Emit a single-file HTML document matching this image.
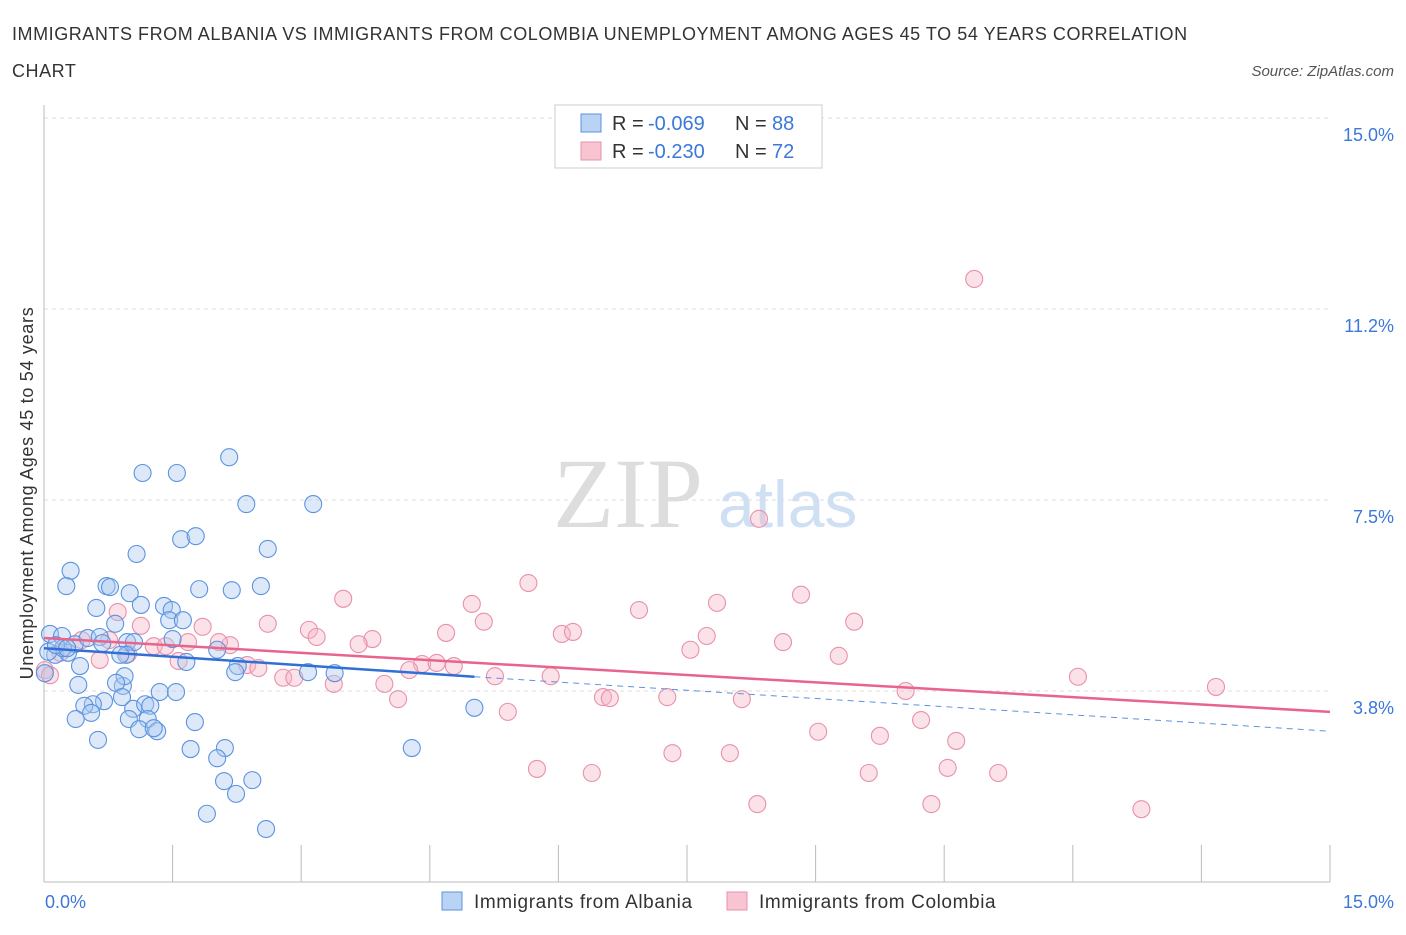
<!DOCTYPE html>
<html><head><meta charset="utf-8"><style>
body{margin:0;background:#fff;font-family:"Liberation Sans",sans-serif;}
svg text{font-family:"Liberation Sans",sans-serif;}
</style></head><body>
<svg id="chart" width="1406" height="930">
<text x="12" y="40" font-size="18" fill="#333" letter-spacing="0.55">IMMIGRANTS FROM ALBANIA VS IMMIGRANTS FROM COLOMBIA UNEMPLOYMENT AMONG AGES 45 TO 54 YEARS CORRELATION</text>
<text x="12" y="77" font-size="18" fill="#333" letter-spacing="0.55">CHART</text>
<text x="1394" y="76" font-size="15" fill="#555" font-style="italic" text-anchor="end">Source: ZipAtlas.com</text>
<text x="553" y="527" font-size="100" fill="#ddd" style="font-family:'Liberation Serif',serif">ZIP</text>
<text x="718" y="527" font-size="66" fill="#cfe0f5">atlas</text>
<g id="grid"></g><g id="axes"></g><g id="marks"></g><g id="lines"></g>
<text x="33" y="493" font-size="18" letter-spacing="0.7" fill="#333" transform="rotate(-90 33 493)" text-anchor="middle">Unemployment Among Ages 45 to 54 years</text>
<text x="45" y="908" font-size="18" fill="#3b78d8">0.0%</text>
<text x="1394" y="908" font-size="18" fill="#3b78d8" text-anchor="end">15.0%</text>
<g>
<rect x="555" y="105" width="267" height="63" fill="#fff" stroke="#ccc"/>
<rect x="581" y="114" width="20" height="18" fill="#b9d3f5" stroke="#5b93e0"/>
<rect x="581" y="142" width="20" height="18" fill="#f8c4d2" stroke="#e891aa"/>
<text x="612" y="130" font-size="20" fill="#333">R =</text>
<text x="648" y="130" font-size="20" fill="#3b78d8">-0.069</text>
<text x="735" y="130" font-size="20" fill="#333">N =</text>
<text x="772" y="130" font-size="20" fill="#3b78d8">88</text>
<text x="612" y="158" font-size="20" fill="#333">R =</text>
<text x="648" y="158" font-size="20" fill="#3b78d8">-0.230</text>
<text x="735" y="158" font-size="20" fill="#333">N =</text>
<text x="772" y="158" font-size="20" fill="#3b78d8">72</text>
</g>
<g>
<rect x="442" y="892" width="20" height="18" fill="#b9d3f5" stroke="#5b93e0"/>
<text x="474" y="908" font-size="19" letter-spacing="0.6" fill="#333">Immigrants from Albania</text>
<rect x="727" y="892" width="20" height="18" fill="#f8c4d2" stroke="#e891aa"/>
<text x="759" y="908" font-size="19" letter-spacing="0.6" fill="#333">Immigrants from Colombia</text>
</g>
</svg>
<script>
const yTicks=[3.75,7.5,11.25,15];
const yTickLabels=["3.8%","7.5%","11.2%","15.0%"];
const xTicks=[0,1.5,3,4.5,6,7.5,9,10.5,12,13.5,15];
const albaniaX=[1.15,1.55,2.16,2.36,3.14,1.60,1.77,1.08,2.61,0.31,0.26,0.73,0.77,1.00,1.81,2.19,2.53,0.61,1.13,1.40,1.49,1.46,1.62,0.83,0.07,0.21,0.36,0.51,0.65,0.68,0.97,1.05,1.50,2.02,0.96,1.66,2.26,2.23,3.08,3.39,0.89,0.13,0.28,0.42,0.40,0.92,0.94,0.84,1.35,1.54,0.70,0.91,0.57,0.47,0.55,1.04,1.18,1.24,0.37,0.99,1.21,1.76,1.11,1.32,1.28,0.63,1.71,2.11,2.02,2.10,2.43,2.24,1.90,2.59,4.29,5.02,0.22,0.05,0.01,0.14,0.27];
const albaniaY=[8.03,8.03,8.34,7.42,7.42,6.73,6.79,6.44,6.54,6.11,5.81,5.81,5.79,5.67,5.75,5.73,5.81,5.38,5.44,5.42,5.34,5.14,5.14,5.07,4.87,4.83,4.67,4.79,4.81,4.69,4.71,4.71,4.77,4.56,4.46,4.32,4.24,4.12,4.12,4.10,4.46,4.46,4.50,4.24,3.87,3.85,4.04,3.91,3.73,3.73,3.55,3.63,3.49,3.46,3.32,3.40,3.49,3.46,3.20,3.20,3.20,3.14,3.00,2.96,3.02,2.79,2.61,2.63,2.43,1.98,2.00,1.73,1.34,1.04,2.63,3.42,4.59,4.52,4.10,4.65,4.59];
const colombiaX=[10.85,8.34,5.65,3.49,4.99,6.94,7.85,8.83,5.13,9.45,0.86,1.13,1.85,2.61,3.09,4.69,6.04,6.17,7.73,8.62,3.83,3.67,3.18,2.17,2.04,1.68,1.28,1.42,1.57,2.37,2.50,0.65,0.44,0.19,0.01,0.07,7.54,9.27,4.41,4.26,4.58,4.78,5.26,5.91,2.79,2.92,3.38,3.97,4.13,6.52,6.60,7.27,8.14,10.05,12.06,13.67,5.41,10.23,9.03,9.75,10.64,7.33,8.00,5.75,6.39,9.62,10.54,11.13,8.32,10.35,12.80,0.76,0.98];
const colombiaY=[11.84,7.13,5.87,5.56,5.46,5.34,5.48,5.64,5.11,5.11,5.30,5.03,5.01,5.07,4.95,4.89,4.87,4.91,4.83,4.71,4.77,4.67,4.81,4.65,4.71,4.71,4.63,4.63,4.34,4.26,4.20,4.36,4.75,4.50,4.16,4.06,4.56,4.44,4.28,4.16,4.30,4.24,4.04,4.04,4.01,4.01,3.89,3.89,3.59,3.63,3.61,3.63,3.59,3.75,4.03,3.83,3.34,3.18,2.95,2.87,2.77,2.53,2.53,2.22,2.14,2.14,2.24,2.14,1.53,1.53,1.43,4.75,4.48];
const albaniaTrend=[4.59,4.03,2.96];
const albaniaTrendX=[0,5.02,15];
const colombiaTrend=[4.79,3.34];
const colombiaTrendX=[0,15];

const NS="http://www.w3.org/2000/svg";
const X=v=>44+v*(1330-44)/15;
const Y=v=>882-v*(882-118)/15;
function mk(t,a,p){const e=document.createElementNS(NS,t);for(const k in a)e.setAttribute(k,a[k]);p.appendChild(e);return e;}
const grid=document.getElementById('grid'),axes=document.getElementById('axes'),marks=document.getElementById('marks'),lines=document.getElementById('lines');
yTicks.forEach((t,i)=>{
 const l=mk('line',{x1:44,x2:1330,y1:Y(t),y2:Y(t),stroke:'#ddd','stroke-dasharray':'4,4'},grid);
 
 
 const tx=mk('text',{x:1394,y:Y(t)+23,'font-size':18,fill:'#3b78d8','text-anchor':'end'},axes);
 tx.textContent=yTickLabels[i];
 
 
});
const ya=mk('line',{x1:44,x2:44,y1:105,y2:882,stroke:'#bbb'},axes);


const xa=mk('line',{x1:44,x2:1330,y1:882,y2:882,stroke:'#bbb'},axes);


xTicks.forEach(t=>{
 const l=mk('line',{x1:X(t),x2:X(t),y1:845,y2:882,stroke:'#bbb'},axes);
 
 
});
function pts(xs,ys,fill,stroke,name){
 xs.forEach((x,i)=>{
  const c=mk('circle',{cx:X(x),cy:Y(ys[i]),r:8.5,fill:fill,'fill-opacity':0.4,stroke:stroke,'stroke-width':1.1},marks);
  
  
 });
}
pts(colombiaX,colombiaY,'#f6b3c6','#e891aa','colombia-point');
pts(albaniaX,albaniaY,'#a9c8f0','#5b93e0','albania-point');
const b1=mk('line',{x1:X(albaniaTrendX[0]),y1:Y(albaniaTrend[0]),x2:X(albaniaTrendX[1]),y2:Y(albaniaTrend[1]),stroke:'#2f6fd6','stroke-width':2.5},lines);


const b2=mk('line',{x1:X(albaniaTrendX[1]),y1:Y(albaniaTrend[1]),x2:X(albaniaTrendX[2]),y2:Y(albaniaTrend[2]),stroke:'#5b93e0','stroke-width':1,'stroke-dasharray':'6,5'},lines);


const p1=mk('line',{x1:X(colombiaTrendX[0]),y1:Y(colombiaTrend[0]),x2:X(colombiaTrendX[1]),y2:Y(colombiaTrend[1]),stroke:'#e8648c','stroke-width':2.5},lines);


</script>
</body></html>
